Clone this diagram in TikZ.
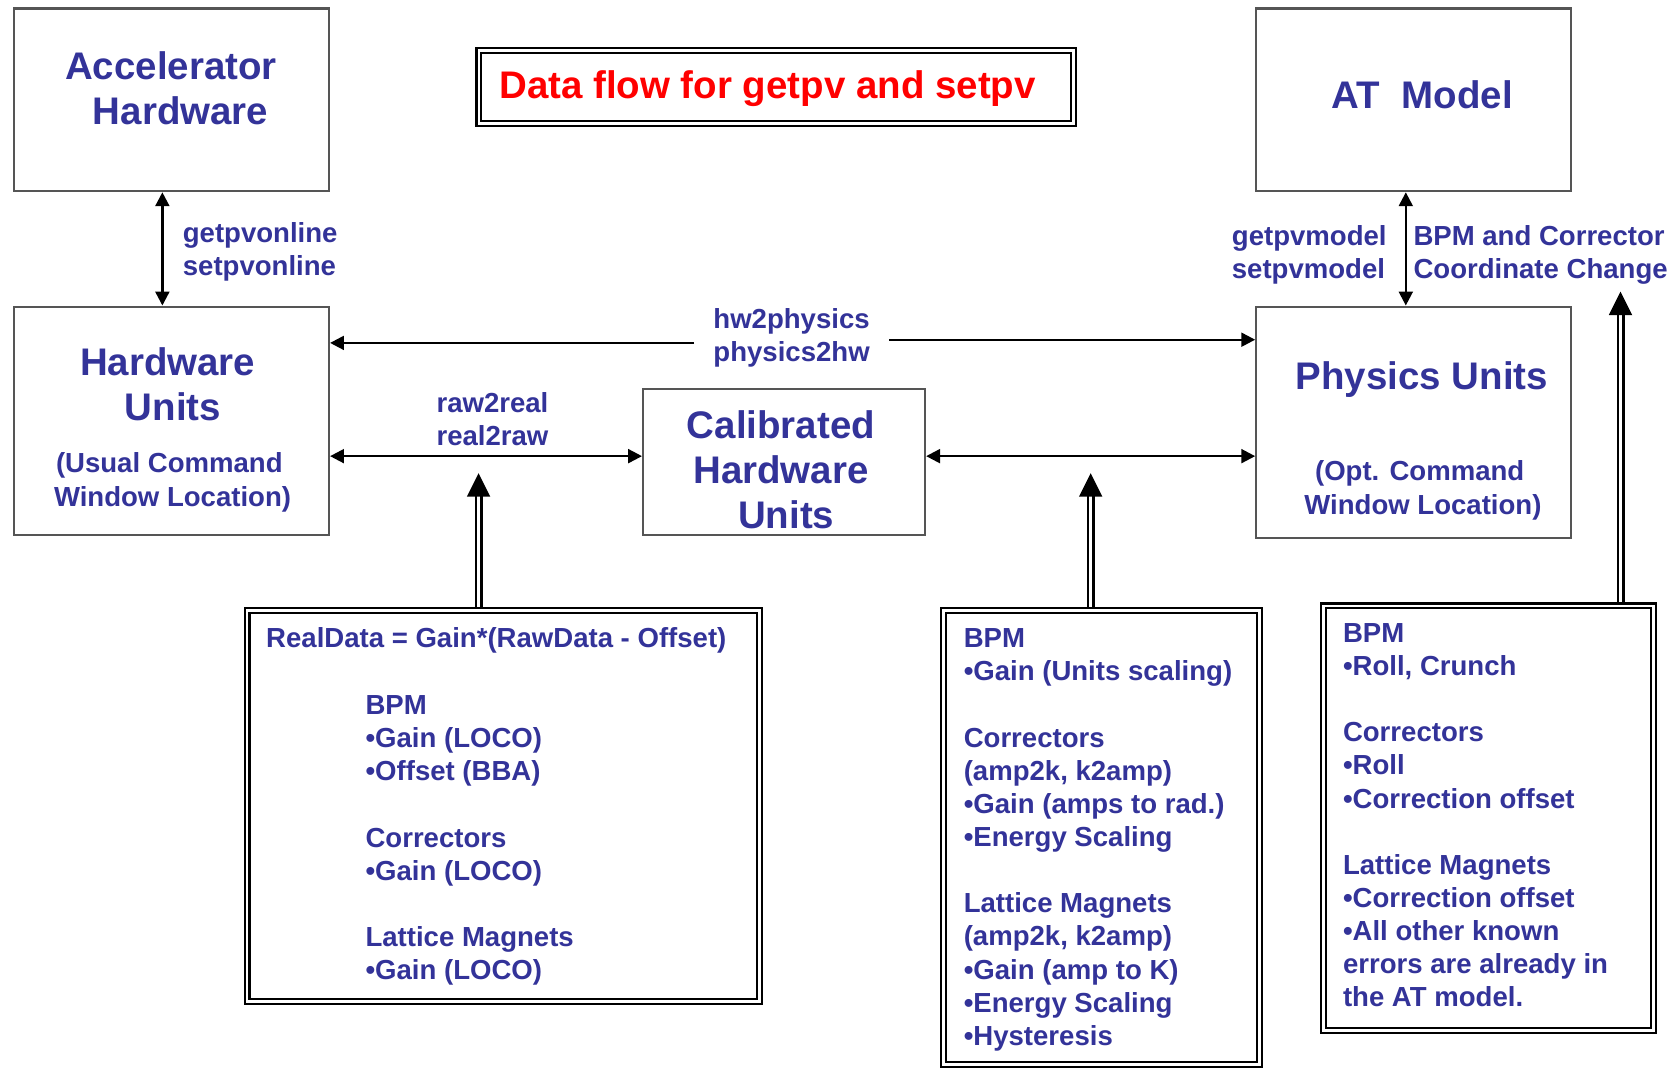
\documentclass[tikz,border=0pt]{standalone}
\usepackage{fontspec}
\setmainfont{Liberation Sans}
\usetikzlibrary{arrows.meta}
\definecolor{txtblue}{RGB}{51,51,153}
\definecolor{boxgray}{RGB}{85,85,85}
\pgfdeclarelayer{bg}
\pgfsetlayers{bg,main}
\begin{document}
\begin{tikzpicture}[x=1pt,y=-1pt,
  box/.style={draw=boxgray, line width=2pt, inner sep=0pt},
  dbox/.style={draw=black, line width=2pt, double=white, double distance=2.5pt, inner sep=0pt},
  big/.style={text=txtblue, font=\fontsize{36}{42}\selectfont\bfseries, inner sep=0pt},
  small/.style={text=txtblue, font=\fontsize{25.8}{31}\selectfont\bfseries, inner sep=0pt},
  arr/.style={draw=black, line width=2.2pt, -{Triangle[length=13pt,width=13pt]}},
  biarr/.style={draw=black, line width=2.2pt, {Triangle[length=13pt,width=13pt]}-{Triangle[length=13pt,width=13pt]}},
  shaft/.style={draw=black, line width=2.5pt, double=white, double distance=2.5pt},
  head/.style={fill=black},
]
\useasboundingbox (0,0) rectangle (1568,999);
% boxes
\node[box, minimum width=295pt, minimum height=171pt] (acc) at (160.5,93.5) {};
\node[box, minimum width=295pt, minimum height=171pt] (atm) at (1323.5,93.5) {};
\node[box, minimum width=295pt, minimum height=214pt] (hwu) at (160.5,394) {};
\node[box, minimum width=264pt, minimum height=137pt] (cal) at (734,432.5) {};
\node[box, minimum width=295pt, minimum height=217pt] (phy) at (1323.5,395.5) {};
\node[dbox, minimum width=556.5pt, minimum height=68.5pt] (title) at (726.5,81.5) {};
\node[dbox, minimum width=479.5pt, minimum height=366.5pt] (b1) at (471,754.5) {};
\node[dbox, minimum width=295.5pt, minimum height=425.5pt] (b2) at (1031,784) {};
\node[dbox, minimum width=308.5pt, minimum height=397.5pt] (b3) at (1393.5,766) {};
% box texts
\node[big, align=center] (accT) at (160,83) {Accelerator\\\hspace*{18pt}Hardware};
\node[big] (atmT) at (1331.5,89) {AT\ \ Model};
\node[big, align=center] (hwuT) at (157,360) {Hardware\\\hspace*{10pt}Units};
\node[small, align=center] (hwuS) at (158.5,451.5) {(Usual Command\\\hspace*{6pt}Window Location)};
\node[big, align=center] (calT) at (731,440) {Calibrated\\Hardware\\\hspace*{10pt}Units};
\node[big] (phyT) at (1331,355) {Physics Units};
\node[small, align=center] (phyS) at (1329,459) {(Opt. Command\\\hspace*{6pt}Window Location)};
\node[text=red, font=\fontsize{36}{42}\selectfont\bfseries, inner sep=0pt] (titleT) at (718.5,83) {Data flow for getpv and setpv};
% labels
\node[small, align=left, anchor=west] (l1) at (171,235.5) {getpvonline\\setpvonline};
\node[small, align=left, anchor=west] (l2) at (1153,238.5) {getpvmodel\\setpvmodel};
\node[small, align=left, anchor=west] (l3) at (1323,238.5) {BPM and Corrector\\Coordinate Change};
\node[small, align=left, inner xsep=18pt] (l4) at (741,316.5) {hw2physics\\physics2hw};
\node[small, align=left] (l5) at (461,392) {raw2real\\real2raw};
% bottom box texts
\node[small, anchor=north west] (b1a) at (249,587.5) {RealData = Gain*(RawData - Offset)};
\node[small, align=left, anchor=north west] (b1b) at (342,651) {BPM\\•Gain (LOCO)\\•Offset (BBA)\\[31pt]Correctors\\•Gain (LOCO)\\[31pt]Lattice Magnets\\•Gain (LOCO)};
\node[small, align=left, anchor=north west] (b2t) at (902,588.5) {BPM\\•Gain (Units scaling)\\[31pt]Correctors\\(amp2k, k2amp)\\•Gain (amps to rad.)\\•Energy Scaling\\[31pt]Lattice Magnets\\(amp2k, k2amp)\\•Gain (amp to K)\\•Energy Scaling\\•Hysteresis};
\node[small, align=left, anchor=north west] (b3t) at (1257,583.5) {BPM\\•Roll, Crunch\\[31pt]Correctors\\•Roll\\•Correction offset\\[31pt]Lattice Magnets\\•Correction offset\\•All other known\\errors are already in\\the AT model.};
% single arrows
\draw[biarr] (152,0 |- acc.south) -- (152,0 |- hwu.north);
\draw[biarr] (1316,0 |- atm.south) -- (1316,0 |- phy.north);
\draw[arr] (l4.west |- 0,321) -- (hwu.east |- 0,321);
\draw[arr] (l4.east |- 0,318) -- (phy.west |- 0,318);
\draw[biarr] (hwu.east |- 0,427) -- (cal.west |- 0,427);
\draw[biarr] (cal.east |- 0,427) -- (phy.west |- 0,427);
% double arrows
\coordinate (t1) at (448,443);
\coordinate (t2) at (1021,443);
\coordinate (t3) at (1517,273);
\begin{pgfonlayer}{bg}
\fill[white] (0,0) rectangle (1568,999);
\draw[shaft] (t1 |- b1.north) -- ([yshift=-20pt]t1);
\draw[shaft] (t2 |- b2.north) -- ([yshift=-20pt]t2);
\draw[shaft] (t3 |- b3.north) -- ([yshift=-20pt]t3);
\end{pgfonlayer}
\fill[head] (t1) -- ++(-11,22) -- ++(22,0) -- cycle;
\fill[head] (t2) -- ++(-11,22) -- ++(22,0) -- cycle;
\fill[head] (t3) -- ++(-11,22) -- ++(22,0) -- cycle;
\end{tikzpicture}
\end{document}
